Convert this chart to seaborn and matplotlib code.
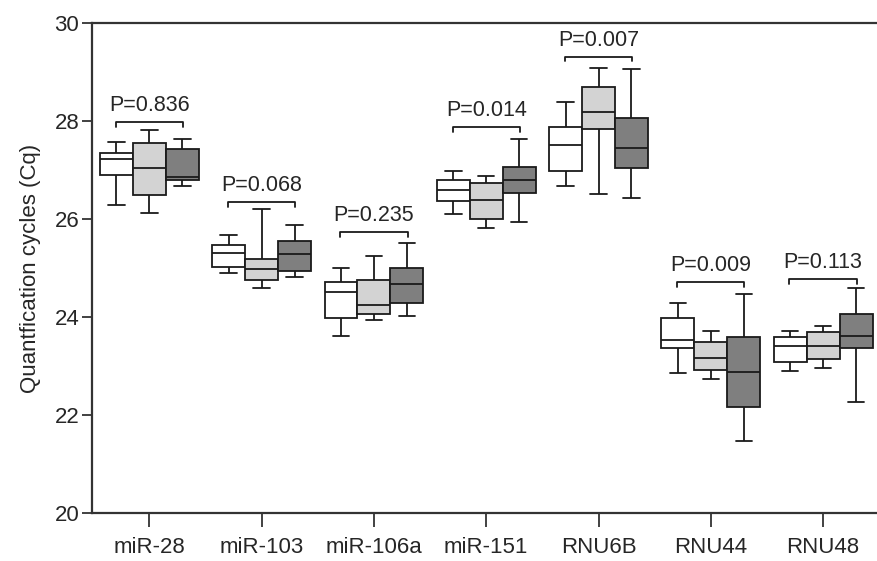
import pandas as pd
import matplotlib
matplotlib.use("Agg")
import matplotlib.pyplot as plt
import seaborn as sns

# -----------------------------------
# Data
# five-number summary per box: min, q1, median, q3, max
# -----------------------------------
genes = ["miR-28", "miR-103", "miR-106a", "miR-151", "RNU6B", "RNU44", "RNU48"]
groups = ["Group 1", "Group 2", "Group 3"]

group1_box = [
    [26.29, 26.90, 27.23, 27.34, 27.57],
    [24.90, 25.02, 25.30, 25.46, 25.68],
    [23.62, 23.98, 24.51, 24.72, 25.00],
    [26.10, 26.37, 26.59, 26.79, 26.97],
    [26.67, 26.98, 27.50, 27.87, 28.39],
    [22.87, 23.36, 23.54, 23.98, 24.29],
    [22.91, 23.09, 23.42, 23.60, 23.71],
]
group2_box = [
    [26.12, 26.48, 27.04, 27.55, 27.81],
    [24.59, 24.76, 24.98, 25.19, 26.21],
    [23.94, 24.06, 24.25, 24.76, 25.24],
    [25.81, 25.99, 26.38, 26.74, 26.88],
    [26.50, 27.84, 28.19, 28.69, 29.07],
    [22.73, 22.93, 23.16, 23.50, 23.72],
    [22.97, 23.14, 23.42, 23.69, 23.82],
]
group3_box = [
    [26.67, 26.79, 26.86, 27.42, 27.62],
    [24.82, 24.94, 25.29, 25.55, 25.88],
    [24.02, 24.28, 24.68, 25.01, 25.51],
    [25.93, 26.52, 26.79, 27.06, 27.62],
    [26.43, 27.03, 27.45, 28.06, 29.06],
    [21.47, 22.17, 22.89, 23.60, 24.47],
    [22.26, 23.37, 23.61, 24.06, 24.59],
]

p_labels = ["P=0.836", "P=0.068", "P=0.235", "P=0.014", "P=0.007", "P=0.009", "P=0.113"]
bracket_y = [27.98, 26.35, 25.73, 27.87, 29.31, 24.71, 24.77]

rows = []
for grp, boxes in zip(groups, [group1_box, group2_box, group3_box]):
    for gene, vals in zip(genes, boxes):
        for v in vals:
            rows.append({"gene": gene, "group": grp, "Cq": v})
df = pd.DataFrame(rows)

# -----------------------------------
# Plot
# -----------------------------------
sns.set_style("ticks")
plt.rcParams["font.family"] = ["Liberation Sans", "DejaVu Sans"]

fig = plt.figure(figsize=(8.77, 5.61), dpi=100)
ax = fig.add_axes([0.1046, 0.085, 0.8954, 0.8745])

sns.boxplot(data=df, x="gene", y="Cq", hue="group", order=genes,
            palette=["white", "#d3d3d3", "#7f7f7f"], saturation=1,
            whis=(0, 100), width=0.88, gap=0, showfliers=False,
            linecolor="#1a1a1a", linewidth=1.3, legend=False, ax=ax)

# significance brackets
for i, (lab, yb) in enumerate(zip(p_labels, bracket_y)):
    ax.plot([i - 0.3, i - 0.3, i + 0.3, i + 0.3],
            [yb - 0.1, yb, yb, yb - 0.1], color="#1a1a1a", lw=1.3)
    ax.text(i, yb + 0.12, lab, ha="center", va="bottom", fontsize=15.5)

ax.set_ylim(20, 30)
ax.set_xlim(-0.513, 6.48)
ax.set_yticks([20, 22, 24, 26, 28, 30])
ax.set_xlabel("")
ax.set_ylabel("Quantfication cycles (Cq)", fontsize=16)
ax.yaxis.set_label_coords(-0.064, 0.5)

for side in ["left", "bottom", "top"]:
    ax.spines[side].set_color("#333333")
    ax.spines[side].set_linewidth(1.6)
ax.spines["right"].set_visible(False)
ax.tick_params(axis="y", length=7, width=1.3, color="#333333", pad=2, labelsize=16)
ax.tick_params(axis="x", length=10, width=1.3, color="#333333", pad=7, labelsize=16)

fig.savefig("out.png", dpi=100)
